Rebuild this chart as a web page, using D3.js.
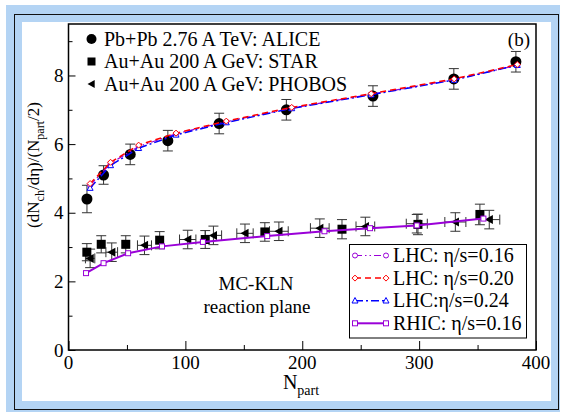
<!DOCTYPE html>
<html lang="en">
<head>
<meta charset="utf-8">
<title>dNch/deta per participant pair</title>
<script src="https://d3js.org/d3.v7.min.js"></script>
<style>
  html, body { margin: 0; padding: 0; background: white; }
  svg text { font-family: 'Liberation Serif', 'DejaVu Serif', serif; fill: black; }
</style>
</head>
<body>
<div class="chart"></div>
<script>
// ALICE Pb+Pb 2.76 A TeV
const aliceNpart = [382.8, 329.7, 260.5, 186.4, 128.9, 85.0, 52.8, 30.0, 15.8];
const aliceVal   = [8.4, 7.9, 7.4, 7.0, 6.6, 6.1, 5.7, 5.1, 4.4];
const aliceErr   = [0.3, 0.3, 0.3, 0.3, 0.3, 0.3, 0.3, 0.27, 0.4];

// STAR Au+Au 200 A GeV
const starNpart = [352, 299, 234, 168, 117, 78, 49, 28, 15.7];
const starVal   = [3.95, 3.66, 3.52, 3.44, 3.22, 3.2, 3.08, 3.08, 2.85];
const starErr   = [0.3, 0.3, 0.28, 0.27, 0.26, 0.25, 0.25, 0.25, 0.25];

// PHOBOS Au+Au 200 A GeV
const phobosNpart = [360, 331, 298, 254, 215, 180, 151, 124, 102, 65, 37, 18.5];
const phobosVal   = [3.8, 3.73, 3.68, 3.6, 3.55, 3.46, 3.4, 3.34, 3.22, 3.05, 2.85, 2.67];
const phobosErr   = [0.27, 0.27, 0.27, 0.27, 0.27, 0.27, 0.27, 0.27, 0.27, 0.27, 0.27, 0.27];
const phobosXErr  = [9, 9, 9, 8, 8, 8, 7, 7, 7, 6, 5, 4];

// hydro model curves
const lhcNpart = [18.5, 36, 60, 92, 135, 191, 259, 330, 384];
const lhc016 = [4.8, 5.44, 5.93, 6.3, 6.65, 7.05, 7.45, 7.88, 8.3];
const lhc020 = [4.85, 5.47, 5.97, 6.32, 6.67, 7.07, 7.47, 7.9, 8.32];
const lhc024 = [4.72, 5.38, 5.88, 6.27, 6.63, 7.04, 7.44, 7.87, 8.3];
const rhicNpart = [15, 30, 51, 80, 115, 170, 219, 258, 298, 355];
const rhic016   = [2.24, 2.53, 2.82, 3.02, 3.15, 3.32, 3.46, 3.55, 3.63, 3.83];

const xTicks = [0, 100, 200, 300, 400];
const xMinor = [50, 150, 250, 350];
const yTicks = [0, 2, 4, 6, 8];
const yMinor = [1, 3, 5, 7, 9];

const dataLegend = ["Pb+Pb 2.76 A TeV: ALICE", "Au+Au 200 A GeV: STAR", "Au+Au 200 A GeV: PHOBOS"];
const modelLegend = ["LHC: \u03B7/s=0.16", "LHC: \u03B7/s=0.20", "LHC:\u03B7/s=0.24", "RHIC: \u03B7/s=0.16"];

const width = 563, height = 414;
const margin = {left: 68.5, right: 536, top: 24, bottom: 350};

const svg = d3.select(".chart").append("svg")
  .attr("width", width).attr("height", height);

// background frames
svg.append("rect").attr("x", 6).attr("y", 5).attr("width", 554).attr("height", 407).attr("fill", "#b4d4f4");
svg.append("rect").attr("x", 14.5).attr("y", 14.5).attr("width", 544).attr("height", 395)
  .attr("fill", "none").attr("stroke", "#111").attr("stroke-width", 1);
svg.append("rect").attr("x", 22).attr("y", 22).attr("width", 529).attr("height", 379).attr("fill", "white");

const x = d3.scaleLinear().domain([0, 400]).range([margin.left, margin.right]);
const y = d3.scaleLinear().domain([0, 9.5]).range([margin.bottom, margin.top]);

// axes (ticks inward)
const gx = svg.append("g").attr("transform", `translate(0,${margin.bottom})`);
gx.call(d3.axisTop(x).tickValues(xTicks).tickSize(9).tickFormat(""));
gx.append("g").call(d3.axisTop(x).tickValues(xMinor).tickSize(5).tickFormat(""));
const gy = svg.append("g").attr("transform", `translate(${margin.left},0)`);
gy.call(d3.axisRight(y).tickValues(yTicks).tickSize(7).tickFormat(""));
gy.append("g").call(d3.axisRight(y).tickValues(yMinor).tickSize(4).tickFormat(""));
svg.selectAll(".domain").remove();
svg.selectAll(".tick line").attr("stroke", "black").attr("stroke-width", 1);

svg.selectAll(".xlab").data(xTicks).enter().append("text")
  .attr("x", d => x(d)).attr("y", margin.bottom + 19)
  .attr("text-anchor", "middle").attr("font-size", 19).text(d => d);
svg.selectAll(".ylab").data(yTicks).enter().append("text")
  .attr("x", margin.left - 5).attr("y", d => y(d) + 6.5)
  .attr("text-anchor", "end").attr("font-size", 19).text(d => d);

svg.append("rect").attr("x", margin.left).attr("y", margin.top)
  .attr("width", margin.right - margin.left).attr("height", margin.bottom - margin.top)
  .attr("fill", "none").attr("stroke", "black").attr("stroke-width", 1.5);

// axis titles
const xt = svg.append("text").attr("x", 301).attr("y", 389).attr("text-anchor", "middle").attr("font-size", 20);
xt.append("tspan").text("N");
xt.append("tspan").attr("dy", 6).attr("font-size", 14).text("part");

const yt = svg.append("text").attr("transform", "translate(39,165) rotate(-90)")
  .attr("text-anchor", "middle").attr("font-size", 17);
yt.append("tspan").text("(dN");
yt.append("tspan").attr("dy", 4.5).attr("font-size", 12).text("ch");
yt.append("tspan").attr("dy", -4.5).text("/d\u03B7)/(N");
yt.append("tspan").attr("dy", 4.5).attr("font-size", 12).text("part");
yt.append("tspan").attr("dy", -4.5).text("/2)");

// error bars helper
function errBars(xs, ys, es, xes) {
  const g = svg.append("g").attr("stroke", "#333").attr("stroke-width", 1).attr("fill", "none");
  xs.forEach((d, i) => {
    const cx = x(d), cy = y(ys[i]), y0 = y(ys[i] - es[i]), y1 = y(ys[i] + es[i]);
    g.append("line").attr("x1", cx).attr("x2", cx).attr("y1", y0).attr("y2", y1);
    g.append("line").attr("x1", cx - 5).attr("x2", cx + 5).attr("y1", y0).attr("y2", y0);
    g.append("line").attr("x1", cx - 5).attr("x2", cx + 5).attr("y1", y1).attr("y2", y1);
    if (xes) {
      const xa = x(d - xes[i]), xb = x(d + xes[i]);
      g.append("line").attr("x1", xa).attr("x2", xb).attr("y1", cy).attr("y2", cy);
      g.append("line").attr("x1", xa).attr("x2", xa).attr("y1", cy - 5).attr("y2", cy + 5);
      g.append("line").attr("x1", xb).attr("x2", xb).attr("y1", cy - 5).attr("y2", cy + 5);
    }
  });
}
errBars(aliceNpart, aliceVal, aliceErr);
errBars(starNpart, starVal, starErr);
errBars(phobosNpart, phobosVal, phobosErr, phobosXErr);

const triLeft = (cx, cy, s) => `M${cx - s},${cy} L${cx + s * 0.8},${cy - s} L${cx + s * 0.8},${cy + s} Z`;

svg.selectAll(".alice").data(aliceNpart).enter().append("circle")
  .attr("cx", d => x(d)).attr("cy", (d, i) => y(aliceVal[i])).attr("r", 5.5).attr("fill", "black");
svg.selectAll(".star").data(starNpart).enter().append("rect")
  .attr("x", d => x(d) - 4.5).attr("y", (d, i) => y(starVal[i]) - 4.5)
  .attr("width", 9).attr("height", 9).attr("fill", "black");
svg.selectAll(".phobos").data(phobosNpart).enter().append("path")
  .attr("d", (d, i) => triLeft(x(d), y(phobosVal[i]), 4.5)).attr("fill", "black");

// model curves
const purple = "#9a00d8", red = "#ff0000", blue = "#0000ff";
const markers = {
  circle: (g, cx, cy, c) => g.append("circle").attr("cx", cx).attr("cy", cy).attr("r", 2.5)
    .attr("fill", "white").attr("stroke", c).attr("stroke-width", 1),
  diamond: (g, cx, cy, c) => g.append("path").attr("d", `M${cx},${cy - 3} L${cx + 3},${cy} L${cx},${cy + 3} L${cx - 3},${cy} Z`)
    .attr("fill", "white").attr("stroke", c).attr("stroke-width", 1),
  triangle: (g, cx, cy, c) => g.append("path").attr("d", `M${cx},${cy - 3.2} L${cx + 3},${cy + 2.3} L${cx - 3},${cy + 2.3} Z`)
    .attr("fill", "white").attr("stroke", c).attr("stroke-width", 1),
  square: (g, cx, cy, c) => g.append("rect").attr("x", cx - 2.5).attr("y", cy - 2.5).attr("width", 5).attr("height", 5)
    .attr("fill", "white").attr("stroke", c).attr("stroke-width", 1)
};
const models = [
  {xs: lhcNpart, ys: lhc016, color: purple, dash: "7,3,1.5,3,1.5,3", width: 1.2, marker: "circle"},
  {xs: lhcNpart, ys: lhc024, color: blue, dash: "8,3,2,3", width: 1.5, marker: "triangle"},
  {xs: lhcNpart, ys: lhc020, color: red, dash: "6,4", width: 1.5, marker: "diamond"},
  {xs: rhicNpart, ys: rhic016, color: purple, dash: null, width: 2, marker: "square"}
];
const line = d3.line().x(d => x(d[0])).y(d => y(d[1]));
models.forEach(m => {
  const pts = m.xs.map((d, i) => [d, m.ys[i]]);
  svg.append("path").datum(pts).attr("d", line).attr("fill", "none")
    .attr("stroke", m.color).attr("stroke-width", m.width)
    .attr("stroke-dasharray", m.dash);
  const g = svg.append("g");
  pts.forEach(p => markers[m.marker](g, x(p[0]), y(p[1]), m.color));
});

// data legend (top left)
const lg = svg.append("g");
dataLegend.forEach((t, i) => {
  const cy = 39 + i * 22.5;
  if (i === 0) lg.append("circle").attr("cx", 91.5).attr("cy", cy).attr("r", 5).attr("fill", "black");
  if (i === 1) lg.append("rect").attr("x", 87.5).attr("y", cy - 4).attr("width", 8).attr("height", 8).attr("fill", "black");
  if (i === 2) lg.append("path").attr("d", triLeft(91.5, cy, 4)).attr("fill", "black");
  lg.append("text").attr("x", 104).attr("y", cy + 6.5).attr("font-size", 20).text(t);
});
svg.append("text").attr("x", 530).attr("y", 46).attr("text-anchor", "end").attr("font-size", 19).text("(b)");

// model legend (bottom right)
svg.append("rect").attr("x", 349.5).attr("y", 244.5).attr("width", 177).attr("height", 93.5)
  .attr("fill", "white").attr("stroke", "black").attr("stroke-width", 1);
const legendOrder = [models[0], models[2], models[1], models[3]];
modelLegend.forEach((t, i) => {
  const cy = 255.5 + i * 22.6;
  const m = legendOrder[i];
  svg.append("line").attr("x1", 355).attr("x2", 386).attr("y1", cy).attr("y2", cy)
    .attr("stroke", m.color).attr("stroke-width", m.width).attr("stroke-dasharray", m.dash);
  const g = svg.append("g");
  markers[m.marker](g, 355, cy, m.color);
  markers[m.marker](g, 386, cy, m.color);
  svg.append("text").attr("x", 393).attr("y", cy + 6.5).attr("font-size", 20).text(t);
});

// annotation
svg.append("text").attr("x", 256).attr("y", 290).attr("text-anchor", "middle").attr("font-size", 19).text("MC-KLN");
svg.append("text").attr("x", 257).attr("y", 313).attr("text-anchor", "middle").attr("font-size", 19).text("reaction plane");
</script>
</body>
</html>
